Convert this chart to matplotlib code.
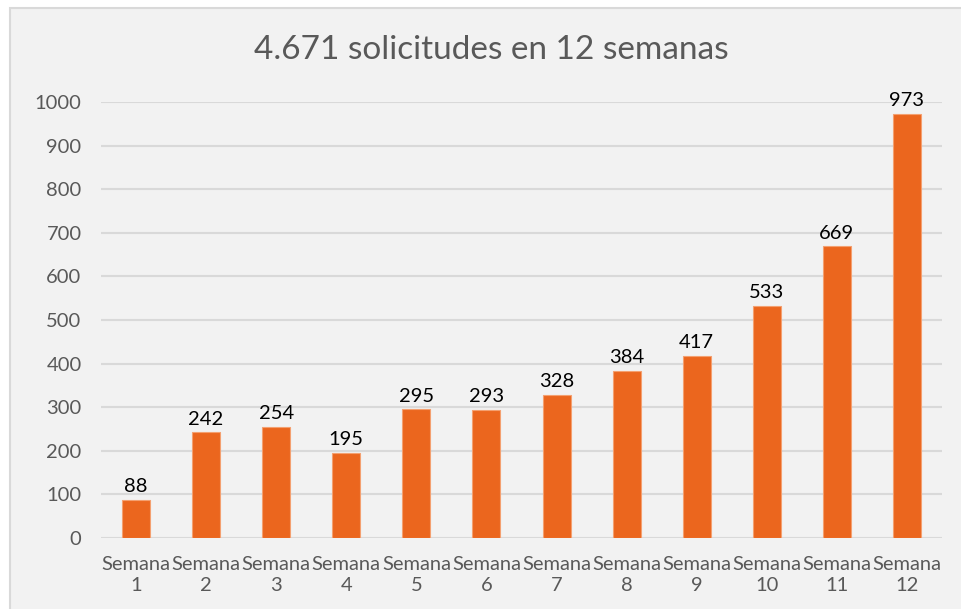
import matplotlib
matplotlib.use("Agg")
import matplotlib.pyplot as plt
from matplotlib.patches import Rectangle

categories = [f"Semana\n{i}" for i in range(1, 13)]
values = [88, 242, 254, 195, 295, 293, 328, 384, 417, 533, 669, 973]
title = "4.671 solicitudes en 12 semanas"
yticks = [0, 100, 200, 300, 400, 500, 600, 700, 800, 900, 1000]

plt.rcParams['font.family'] = ['Lato', 'DejaVu Sans']

W, H = 961, 609
fig = plt.figure(figsize=(W / 100, H / 100), dpi=100, facecolor='white')
fig.patches.append(Rectangle((10 / W, -0.05), 1.0, 1 - 8 / H + 0.05, transform=fig.transFigure,
                             facecolor='#f2f2f2', edgecolor='#d9d9d9', linewidth=1.5, zorder=-10))

ax = fig.add_axes([101 / W, 1 - 538 / H, (942 - 101) / W, (538 - 102) / H])
ax.set_zorder(5)
ax.set_facecolor('none')
x = list(range(len(values)))
bars = ax.bar(x, values, width=0.4, color='#EB661E', edgecolor='#F4A070', linewidth=0.8, zorder=3)
for xi, v in zip(x, values):
    ax.text(xi, v + 11, str(v), ha='center', va='bottom', fontsize=14.5, color='black', zorder=4)

ax.set_xlim(-0.5, len(values) - 0.5)
ax.set_ylim(0, 1000)
ax.set_yticks(yticks)
ax.set_yticklabels([str(t) for t in yticks])
ax.set_xticks(x)
ax.set_xticklabels(categories, linespacing=1.3)
ax.tick_params(axis='both', length=0, labelsize=14.5, labelcolor='#595959')
ax.tick_params(axis='y', pad=14)
ax.tick_params(axis='x', pad=13)
ax.grid(axis='y', color='#d9d9d9', linewidth=1.5, zorder=0)
for s in ax.spines.values():
    s.set_visible(False)

fig.text(491 / W, 1 - 50 / H, title, ha='center', va='center', fontsize=24, color='#595959')

fig.savefig('out.png', dpi=100)
